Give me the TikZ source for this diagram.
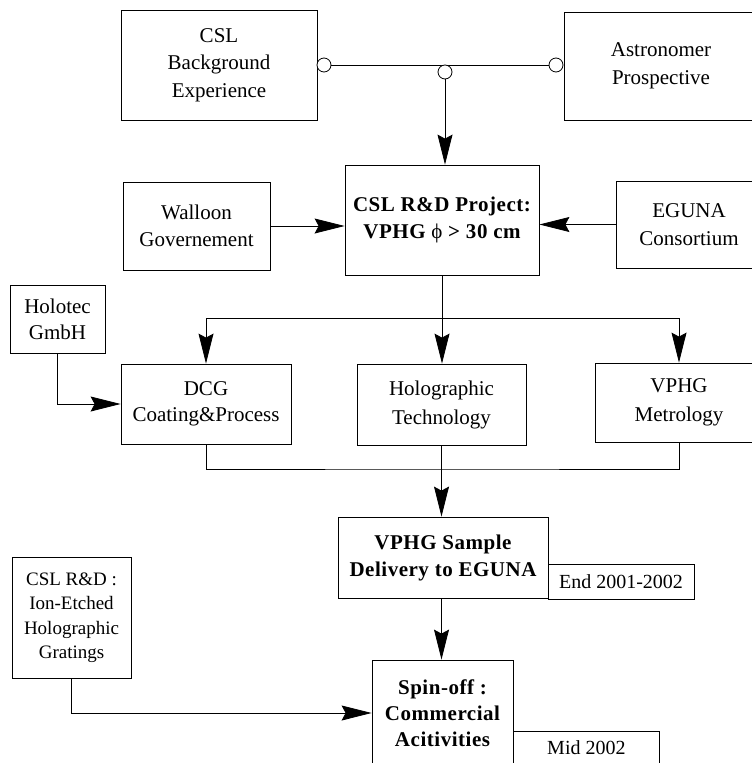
\documentclass[tikz,border=0pt]{standalone}
\usepackage{fontspec}
\setmainfont{Liberation Serif}
\usetikzlibrary{arrows.meta}
\begin{document}
\begin{tikzpicture}[x=1pt,y=-1pt,
  box/.style={draw, line width=0.8pt, inner sep=0pt, align=center,
    font=\fontsize{21}{27.5}\selectfont},
  boldbox/.style={box, font=\fontsize{21}{27}\selectfont\bfseries\addfontfeature{LetterSpace=2.5}},
  arr/.style={line width=0.8pt, -{Stealth[length=30pt,width=15pt,inset=4pt]}},
  ln/.style={line width=0.8pt},
  port/.style={circle, draw, line width=0.8pt, fill=white, minimum size=14pt, inner sep=0pt}]
\useasboundingbox (0,0) rectangle (752,763);
\clip (0,0) rectangle (752,763);
% top row
\node[box, minimum width=196pt, minimum height=110pt] (bg) at (219,65) {CSL\\Background\\Experience};
\node[box, minimum width=194pt, minimum height=108pt] (astro) at (661,66) {Astronomer\\Prospective};
% R&D row
\node[boldbox, minimum width=194pt, minimum height=110pt] (rd) at (442,220) {CSL R\&D Project:\\VPHG {\mdseries ϕ} > 30 cm};
\node[box, minimum width=147pt, minimum height=88pt] (wall) at (196.5,226) {Walloon\\Governement};
\node[box, minimum width=146pt, minimum height=87pt] (eguna) at (689,224.5) {EGUNA\\Consortium};
% third row
\node[box, minimum width=95pt, minimum height=68pt, font=\fontsize{21}{26}\selectfont] (holotec) at (57.5,319) {Holotec\\GmbH};
\node[box, minimum width=170pt, minimum height=80pt, font=\fontsize{21}{26}\selectfont] (dcg) at (206,404) {DCG\\Coating\&Process};
\node[box, minimum width=169pt, minimum height=81pt, font=\fontsize{21}{29}\selectfont] (holo) at (441.5,404.5) {Holographic\\Technology};
\node[box, minimum width=168pt, minimum height=79pt, font=\fontsize{21}{29}\selectfont] (metro) at (679,402.5) {VPHG\\Metrology};
% sample row
\node[boldbox, minimum width=210pt, minimum height=81pt] (sample) at (443,557.5) {VPHG Sample\\Delivery to EGUNA};
\node[box, minimum width=146pt, minimum height=35pt, font=\fontsize{20}{24}\selectfont] (end) at (621,581.5) {End 2001-2002};
\node[box, minimum width=119pt, minimum height=121pt, font=\fontsize{19}{24.5}\selectfont] (ion) at (71.5,617.5) {CSL R\&D :\\Ion-Etched\\Holographic\\Gratings};
% bottom row
\node[boldbox, minimum width=141pt, minimum height=106pt, font=\fontsize{21}{26}\selectfont\bfseries\addfontfeature{LetterSpace=2.5}] (spin) at (442.5,713) {Spin-off :\\Commercial\\Acitivities};
\node[box, minimum width=146pt, minimum height=48pt, anchor=north west, font=\fontsize{20}{24}\selectfont,
  text height=14pt, text depth=16.8pt] (mid) at (513,731) {Mid 2002};
% ports
\node[port] (pl) at (324,65) {};
\node[port] (pr) at (556,65) {};
\draw[ln] (pl.east) -- (pr.west);
\node[port] (pm) at (445,72) {};
% connectors
\draw[arr] (pm.south) -- (pm.south |- rd.north);
\draw[arr] (wall.east) -- (wall.east -| rd.west);
\draw[arr] (eguna.west) -- (eguna.west -| rd.east);
\coordinate (br) at (442,318);
\draw[ln] (rd.south) -- (br);
\draw[arr] (br) -| (dcg.north);
\draw[arr] (br) -| (metro.north);
\draw[arr] (br) -- (br |- holo.north);
\draw[arr] (holotec.south) |- (dcg.west);
\coordinate (jn) at (441.5,469);
\draw[ln] (dcg.south) |- (jn) -| (metro.south);
\draw[ln] (holo.south) -- (jn);
\draw[arr] (jn) -- (jn |- sample.north);
\draw[arr] (jn |- sample.south) -- (jn |- spin.north);
\draw[arr] (ion.south) |- (spin.west);
\end{tikzpicture}
\end{document}
